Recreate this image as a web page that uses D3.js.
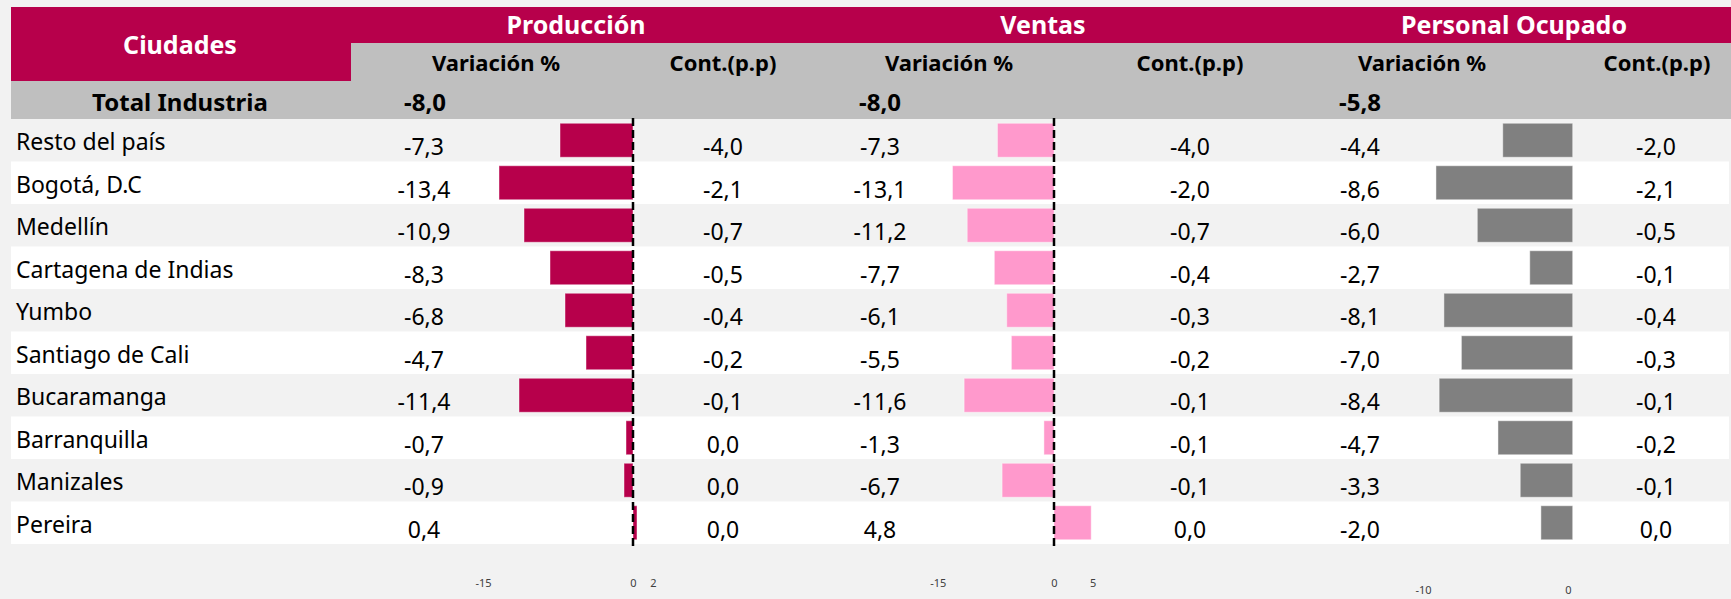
<!DOCTYPE html>
<html>
<head>
<meta charset="utf-8">
<script src="https://cdn.jsdelivr.net/npm/d3@7"></script>
<style>
  body { margin: 0; background: #f2f2f2; }
  svg { display: block; font-family: "Noto Sans", "Open Sans", sans-serif; }
</style>
</head>
<body>
<div id="chart"></div>
<script>
const cities = ["Resto del país", "Bogotá, D.C", "Medellín", "Cartagena de Indias", "Yumbo",
  "Santiago de Cali", "Bucaramanga", "Barranquilla", "Manizales", "Pereira"];
const prodVar = [-7.3, -13.4, -10.9, -8.3, -6.8, -4.7, -11.4, -0.7, -0.9, 0.4];
const prodCont = [-4.0, -2.1, -0.7, -0.5, -0.4, -0.2, -0.1, 0.0, 0.0, 0.0];
const ventVar = [-7.3, -13.1, -11.2, -7.7, -6.1, -5.5, -11.6, -1.3, -6.7, 4.8];
const ventCont = [-4.0, -2.0, -0.7, -0.4, -0.3, -0.2, -0.1, -0.1, -0.1, 0.0];
const persVar = [-4.4, -8.6, -6.0, -2.7, -8.1, -7.0, -8.4, -4.7, -3.3, -2.0];
const persCont = [-2.0, -2.1, -0.5, -0.1, -0.4, -0.3, -0.1, -0.2, -0.1, 0.0];
const totals = [-8.0, -8.0, -5.8];
const groups = ["Producción", "Ventas", "Personal Ocupado"];
const subHeaders = ["Variación %", "Cont.(p.p)"];
const prodTicks = [-15, 0, 2];
const ventTicks = [-15, 0, 5];
const persTicks = [-10, 0];

const width = 1731, height = 599;
const left = 11, right = 1729;
const magenta = "#b7004b", grayHead = "#bfbfbf";

// spanish style: comma decimal, plain hyphen for minus
const locale = d3.formatLocale({ decimal: ",", thousands: ".", grouping: [3], currency: ["$", ""], minus: "-" });
const fmt = locale.format(".1f");
const fmtTick = locale.format("d");

const svg = d3.select("#chart").append("svg")
  .attr("width", width)
  .attr("height", height);

svg.append("rect").attr("width", width).attr("height", height).attr("fill", "#f2f2f2");

//BEGIN: HEADER
svg.append("rect").attr("x", left).attr("y", 7).attr("width", width - left).attr("height", 36).attr("fill", magenta);
svg.append("rect").attr("x", left).attr("y", 7).attr("width", 351 - left).attr("height", 74).attr("fill", magenta);
svg.append("rect").attr("x", 351).attr("y", 43).attr("width", width - 351).attr("height", 38).attr("fill", grayHead);
svg.append("rect").attr("x", left).attr("y", 81).attr("width", width - left).attr("height", 38).attr("fill", grayHead);

svg.append("text").attr("x", 180).attr("y", 54).attr("text-anchor", "middle")
  .attr("font-size", 25).attr("font-weight", 700).attr("fill", "#fff").text("Ciudades");

const groupX = [576, 1043, 1514];
svg.selectAll("text.group").data(groups).enter().append("text")
  .attr("class", "group")
  .attr("x", (d, i) => groupX[i]).attr("y", 34).attr("text-anchor", "middle")
  .attr("font-size", 25).attr("font-weight", 700).attr("fill", "#fff").text((d) => d);

const subX = [496, 723, 949, 1190, 1422, 1657];
svg.selectAll("text.sub").data(subX).enter().append("text")
  .attr("class", "sub")
  .attr("x", (d) => d).attr("y", 71).attr("text-anchor", "middle")
  .attr("font-size", 22).attr("font-weight", 700).attr("fill", "#000")
  .text((d, i) => subHeaders[i % 2]);

svg.append("text").attr("x", 180).attr("y", 111).attr("text-anchor", "middle")
  .attr("font-size", 24).attr("font-weight", 700).attr("fill", "#000").text("Total Industria");

const totalX = [425, 880, 1360];
svg.selectAll("text.total").data(totals).enter().append("text")
  .attr("class", "total")
  .attr("x", (d, i) => totalX[i]).attr("y", 111).attr("text-anchor", "middle")
  .attr("font-size", 24).attr("font-weight", 700).attr("fill", "#000").text((d) => fmt(d));
//END: HEADER

//BEGIN: ROWS
const rowY = d3.scaleBand().domain(cities).range([119, 544]);
const barY = d3.scaleBand().domain(cities).range([119, 544]).paddingInner(0.2).paddingOuter(0.1);

svg.selectAll("rect.row").data(cities).enter().append("rect")
  .attr("class", "row")
  .attr("x", left).attr("y", (d) => rowY(d))
  .attr("width", right - left).attr("height", rowY.bandwidth())
  .attr("fill", (d, i) => (i % 2 ? "#ffffff" : "#f2f2f2"));

svg.selectAll("text.city").data(cities).enter().append("text")
  .attr("class", "city")
  .attr("x", 16).attr("y", (d) => rowY(d) + 31)
  .attr("font-size", 23).attr("fill", "#000").text((d) => d);

const columns = [
  { values: prodVar, x: 424 },
  { values: prodCont, x: 723 },
  { values: ventVar, x: 880 },
  { values: ventCont, x: 1190 },
  { values: persVar, x: 1360 },
  { values: persCont, x: 1656 },
];
columns.forEach((col) => {
  svg.append("g").selectAll("text").data(col.values).enter().append("text")
    .attr("x", col.x).attr("y", (d, i) => rowY(cities[i]) + 36)
    .attr("text-anchor", "middle")
    .attr("font-size", 23).attr("fill", "#000").text((d) => fmt(d));
});
//END: ROWS

//BEGIN: BARS
const xProd = d3.scaleLinear().domain([-15, 2]).range([483, 653]);
const xVent = d3.scaleLinear().domain([-15, 5]).range([937.75, 1092.75]);
const xPers = d3.scaleLinear().domain([-10, 0]).range([1413.7, 1572.7]);
const xPersAxis = d3.scaleLinear().domain([-10, 0]).range([1423, 1568]);

const barSets = [
  { values: prodVar, x: xProd, color: magenta, ticks: prodTicks, axisX: xProd, axisY: 579 },
  { values: ventVar, x: xVent, color: "#ff99cc", ticks: ventTicks, axisX: xVent, axisY: 579 },
  { values: persVar, x: xPers, color: "#808080", ticks: persTicks, axisX: xPersAxis, axisY: 586 },
];

barSets.forEach((set, k) => {
  const g = svg.append("g");
  g.selectAll("rect").data(set.values).enter().append("rect")
    .attr("x", (d) => set.x(Math.min(0, d)))
    .attr("y", (d, i) => barY(cities[i]))
    .attr("width", (d) => Math.abs(set.x(d) - set.x(0)))
    .attr("height", barY.bandwidth())
    .attr("fill", set.color)
    .attr("stroke", "#ffffff").attr("stroke-opacity", 0.45).attr("stroke-width", 1);

  // zero reference line (not drawn for personal ocupado)
  if (k < 2) {
    g.append("line")
      .attr("x1", set.x(0)).attr("x2", set.x(0))
      .attr("y1", 118).attr("y2", 548)
      .attr("stroke", "#000").attr("stroke-width", 2.5)
      .attr("stroke-dasharray", "8,4");
  }

  const axis = svg.append("g")
    .attr("transform", `translate(0,${set.axisY})`)
    .call(d3.axisBottom(set.axisX).tickValues(set.ticks).tickSize(0).tickPadding(0).tickFormat(fmtTick));
  axis.select(".domain").remove();
  axis.selectAll("text").attr("font-size", 11).attr("fill", "#404040")
    .attr("font-family", "'Noto Sans', sans-serif");
});
//END: BARS
</script>
</body>
</html>
